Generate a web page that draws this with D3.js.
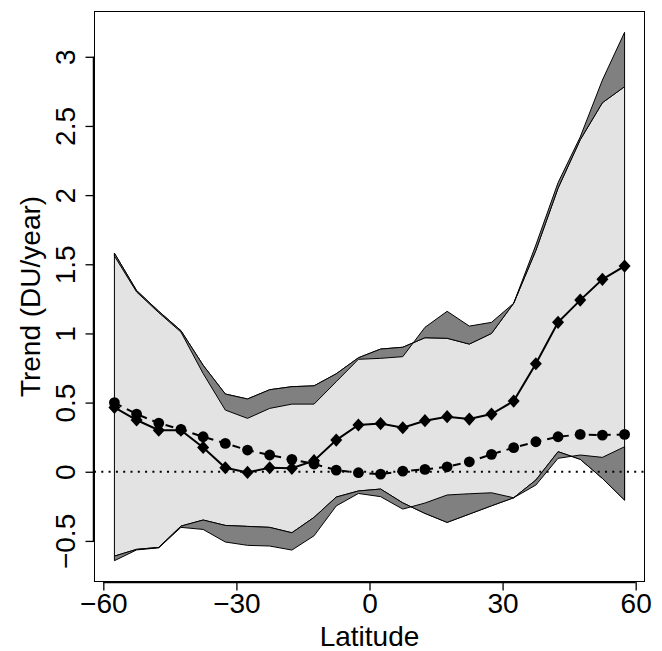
<html>
<head>
<meta charset="utf-8">
<script src="https://d3js.org/d3.v7.min.js"></script>
<style>
body { margin: 0; background: #fff; }
svg text { font-family: "Liberation Sans", Arial, Helvetica, sans-serif; fill: #000; }
</style>
</head>
<body>
<script type="text/javascript">

// latitude bands (centres)
var lat = [-57.5, -52.5, -47.5, -42.5, -37.5, -32.5, -27.5, -22.5, -17.5, -12.5, -7.5, -2.5,
           2.5, 7.5, 12.5, 17.5, 22.5, 27.5, 32.5, 37.5, 42.5, 47.5, 52.5, 57.5];

// upper envelope, two models
var upperA = [1.58, 1.31, 1.16, 1.02, 0.77, 0.562, 0.526, 0.593, 0.615, 0.621, 0.708, 0.824,
              0.887, 0.90, 0.969, 0.965, 0.923, 1.0, 1.218, 1.60, 2.05, 2.40, 2.668, 2.784];
var upperB = [1.56, 1.30, 1.15, 1.01, 0.71, 0.446, 0.386, 0.458, 0.489, 0.489, 0.651, 0.813,
              0.82, 0.832, 1.044, 1.16, 1.053, 1.08, 1.218, 1.64, 2.09, 2.42, 2.832, 3.177];

// lower envelope, two models
var lowerA = [-0.61, -0.561, -0.547, -0.393, -0.349, -0.388, -0.395, -0.402, -0.441, -0.33, -0.183, -0.139,
              -0.125, -0.225, -0.301, -0.366, -0.306, -0.246, -0.188, -0.06, 0.145, 0.09, -0.048, -0.205];
var lowerB = [-0.643, -0.565, -0.55, -0.402, -0.417, -0.508, -0.532, -0.537, -0.566, -0.463, -0.247, -0.157,
              -0.18, -0.27, -0.226, -0.168, -0.159, -0.152, -0.188, -0.096, 0.097, 0.121, 0.104, 0.181];

// trend series
var trendDiamond = [0.465, 0.374, 0.30, 0.30, 0.176, 0.029, -0.005, 0.029, 0.025, 0.08, 0.229, 0.338,
                    0.348, 0.318, 0.369, 0.398, 0.381, 0.417, 0.511, 0.781, 1.08, 1.241, 1.391, 1.487];
var trendCircle = [0.50, 0.417, 0.352, 0.306, 0.253, 0.205, 0.157, 0.121, 0.09, 0.056, 0.012, -0.007,
                   -0.017, 0.005, 0.017, 0.036, 0.072, 0.126, 0.174, 0.217, 0.253, 0.27, 0.265, 0.27];

var xTicks = [-60, -30, 0, 30, 60];
var yTicks = [-0.5, 0, 0.5, 1, 1.5, 2, 2.5, 3];

var W = 662, H = 651;
var plot = {left: 94, right: 645, top: 11, bottom: 582};

var svg = d3.select("body").append("svg")
    .attr("width", W)
    .attr("height", H);

var x = d3.scaleLinear().domain([-62.1, 62.1]).range([plot.left, plot.right]);
var y = d3.scaleLinear().domain([-0.797, 3.331]).range([plot.bottom, plot.top]);

var idx = d3.range(lat.length);

function band(lo, hi) {
    return d3.area()
        .x(function(i) { return x(lat[i]); })
        .y0(function(i) { return y(lo[i]); })
        .y1(function(i) { return y(hi[i]); })(idx);
}

// light envelope, then the model differences in dark grey on top
svg.append("path")
    .attr("d", band(lowerA, upperA))
    .attr("fill", "#e3e3e3")
    .attr("stroke", "#000")
    .attr("stroke-width", 1);

svg.append("path")
    .attr("d", band(upperB, upperA))
    .attr("fill", "#808080")
    .attr("stroke", "#000")
    .attr("stroke-width", 1);

svg.append("path")
    .attr("d", band(lowerB, lowerA))
    .attr("fill", "#808080")
    .attr("stroke", "#000")
    .attr("stroke-width", 1);

// zero line
svg.append("line")
    .attr("x1", plot.left).attr("x2", plot.right)
    .attr("y1", y(0)).attr("y2", y(0))
    .attr("stroke", "#000")
    .attr("stroke-width", 2)
    .attr("stroke-dasharray", "2,5.3");

var line = function(vals) {
    return d3.line()
        .x(function(i) { return x(lat[i]); })
        .y(function(i) { return y(vals[i]); })(idx);
};

// circles, dashed
svg.append("path")
    .attr("d", line(trendCircle))
    .attr("fill", "none")
    .attr("stroke", "#000")
    .attr("stroke-width", 2)
    .attr("stroke-dasharray", "8,6");

svg.selectAll("circle.pt")
    .data(idx)
  .enter().append("circle")
    .attr("class", "pt")
    .attr("cx", function(i) { return x(lat[i]); })
    .attr("cy", function(i) { return y(trendCircle[i]); })
    .attr("r", 5.4)
    .attr("fill", "#000");

// diamonds, solid
svg.append("path")
    .attr("d", line(trendDiamond))
    .attr("fill", "none")
    .attr("stroke", "#000")
    .attr("stroke-width", 2);

var diamond = "M0,-6.6L6,0L0,6.6L-6,0Z";
svg.selectAll("path.dm")
    .data(idx)
  .enter().append("path")
    .attr("class", "dm")
    .attr("d", diamond)
    .attr("transform", function(i) { return "translate(" + x(lat[i]) + "," + y(trendDiamond[i]) + ")"; })
    .attr("fill", "#000");

// box
svg.append("rect")
    .attr("x", plot.left + 0.5).attr("y", plot.top + 0.5)
    .attr("width", plot.right - plot.left - 1)
    .attr("height", plot.bottom - plot.top - 1)
    .attr("fill", "none")
    .attr("stroke", "#000")
    .attr("stroke-width", 1);

// axes
var xAxis = svg.append("g")
    .attr("transform", "translate(0," + plot.bottom + ")")
    .call(d3.axisBottom(x).tickValues(xTicks).tickSize(8.5).tickSizeOuter(0));
xAxis.select(".domain").attr("d", "M" + x(-60) + ",0.5H" + x(60)).attr("stroke-width", 1.5);
xAxis.selectAll(".tick line").attr("stroke-width", 1.3);
xAxis.selectAll("text")
    .attr("y", 31)
    .attr("dy", 0)
    .style("font-size", "28px");

var yAxis = svg.append("g")
    .attr("transform", "translate(" + plot.left + ",0)")
    .call(d3.axisLeft(y).tickValues(yTicks).tickSize(8.5).tickSizeOuter(0)
        .tickFormat(d3.format("~g")));
yAxis.select(".domain").attr("d", "M-0.5," + y(-0.5) + "V" + y(3)).attr("stroke-width", 1.5);
yAxis.selectAll(".tick line").attr("stroke-width", 1.3);
yAxis.selectAll("text")
    .attr("x", 0)
    .attr("y", 0)
    .attr("dy", 0)
    .attr("text-anchor", "middle")
    .attr("transform", "translate(-19,0) rotate(-90)")
    .style("font-size", "28px");

// titles
svg.append("text")
    .attr("x", (plot.left + plot.right) / 2)
    .attr("y", 646)
    .attr("text-anchor", "middle")
    .style("font-size", "28px")
    .text("Latitude");

svg.append("text")
    .attr("transform", "translate(40," + ((plot.top + plot.bottom) / 2) + ") rotate(-90)")
    .attr("text-anchor", "middle")
    .style("font-size", "28px")
    .text("Trend (DU/year)");

</script>
</body>
</html>
